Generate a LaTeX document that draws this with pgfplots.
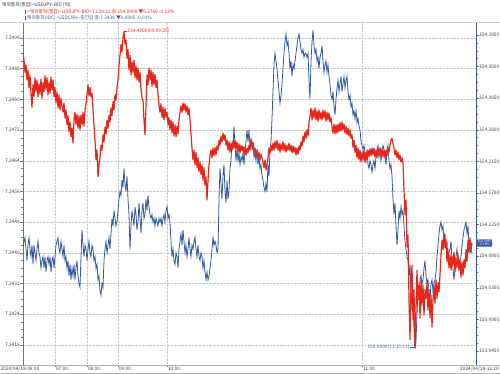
\documentclass[border=0pt]{standalone}
\usepackage{fontspec}
\setmainfont{Noto Sans CJK KR}
\usepackage{pgfplots}
\pgfplotsset{compat=1.18}
\usepackage{pgfplotstable}
\definecolor{cnhblue}{RGB}{52,88,160}
\definecolor{jpyred}{RGB}{228,40,28}
\definecolor{annblue}{RGB}{90,110,160}
\newcommand\tf{\fontsize{4.8}{5.2}\selectfont}
\begin{document}
\begin{tikzpicture}
\useasboundingbox (0,0) rectangle (500bp,374bp);
\begin{axis}[
  at={(23bp,9bp)}, anchor=south west, scale only axis, width=453bp, height=342bp,
  xmin=0, xmax=453, ymin=7.241078, ymax=7.24999,
  axis x line*=bottom, axis y line*=left,
  axis line style={-, black!55, line width=0.5bp},
  tick align=outside, major tick length=2.5bp, minor tick length=1.5bp,
  tick style={black!55, line width=0.4bp},
  ytick={7.2416,7.2424,7.2432,7.2440,7.2448,7.2456,7.2464,7.2472,7.2480,7.2488,7.2496},
  yticklabels={7.2416,7.2424,7.2432,7.2440,7.2448,7.2456,7.2464,7.2472,7.2480,7.2488,7.2496},
  minor y tick num=3,
  xtick={32,64,95,144,339},
  xticklabels={07:00,08:00,09:00,10:00,11:00},
  xticklabel style={anchor=north west, inner sep=0pt, xshift=0.8bp, yshift=1bp},
  yticklabel style={inner sep=0.6bp},
  ticklabel style={font=\tf, text=black!75},
  grid=major, grid style={densely dotted, black!22, line width=0.4bp},
  clip=true,
]
\addplot[cnhblue, line width=0.8bp] table[header=false, x expr=\coordindex, y index=0, row sep=\\] {
7.2441\\7.2443\\7.2444\\7.2441\\7.2438\\7.2442\\7.2444\\7.2441\\7.2439\\7.2442\\
7.2437\\7.2442\\7.2440\\7.2438\\7.2441\\7.2443\\7.2440\\7.2439\\7.2436\\7.2438\\
7.2439\\7.2436\\7.2439\\7.2435\\7.2438\\7.2439\\7.2437\\7.2439\\7.2435\\7.2438\\
7.2439\\7.2436\\7.2439\\7.2442\\7.2443\\7.2444\\7.2441\\7.2440\\7.2443\\7.2441\\
7.2439\\7.2442\\7.2438\\7.2439\\7.2436\\7.2438\\7.2434\\7.2437\\7.2433\\7.2436\\
7.2434\\7.2437\\7.2433\\7.2436\\7.2438\\7.2434\\7.2432\\7.2431\\7.2439\\7.2446\\
7.2442\\7.2439\\7.2442\\7.2441\\7.2438\\7.2441\\7.2443\\7.2440\\7.2439\\7.2442\\
7.2441\\7.2438\\7.2439\\7.2436\\7.2437\\7.2433\\7.2434\\7.2430\\7.2429\\7.2432\\
7.2431\\7.2438\\7.2441\\7.2443\\7.2440\\7.2442\\7.2444\\7.2441\\7.2445\\7.2449\\
7.2447\\7.2451\\7.2449\\7.2447\\7.2448\\7.2451\\7.2454\\7.2456\\7.2455\\7.2459\\
7.2457\\7.2462\\7.2458\\7.2456\\7.2460\\7.2454\\7.2450\\7.2441\\7.2447\\7.2451\\
7.2449\\7.2447\\7.2452\\7.2450\\7.2446\\7.2448\\7.2453\\7.2449\\7.2445\\7.2451\\
7.2453\\7.2449\\7.2450\\7.2454\\7.2451\\7.2455\\7.2452\\7.2450\\7.2449\\7.2450\\
7.2448\\7.2449\\7.2447\\7.2449\\7.2448\\7.2447\\7.2449\\7.2448\\7.2449\\7.2447\\
7.2449\\7.2450\\7.2448\\7.2451\\7.2452\\7.2449\\7.2450\\7.2448\\7.2443\\7.2439\\
7.2441\\7.2438\\7.2437\\7.2440\\7.2439\\7.2436\\7.2441\\7.2443\\7.2445\\7.2442\\
7.2446\\7.2443\\7.2440\\7.2442\\7.2439\\7.2441\\7.2444\\7.2441\\7.2439\\7.2442\\
7.2441\\7.2443\\7.2444\\7.2441\\7.2439\\7.2442\\7.2439\\7.2438\\7.2440\\7.2439\\
7.2436\\7.2438\\7.2435\\7.2433\\7.2435\\7.2433\\7.2434\\7.2436\\7.2438\\7.2441\\
7.2444\\7.2442\\7.2443\\7.2442\\7.2440\\7.2441\\7.2454\\7.2462\\7.2458\\7.2454\\
7.2460\\7.2463\\7.2456\\7.2453\\7.2459\\7.2454\\7.2456\\7.2462\\7.2464\\7.2469\\
7.2467\\7.2473\\7.2468\\7.2464\\7.2467\\7.2464\\7.2466\\7.2463\\7.2465\\7.2464\\
7.2466\\7.2463\\7.2467\\7.2469\\7.2472\\7.2469\\7.2472\\7.2467\\7.2470\\7.2467\\
7.2468\\7.2465\\7.2466\\7.2464\\7.2467\\7.2463\\7.2465\\7.2462\\7.2463\\7.2460\\
7.2459\\7.2457\\7.2456\\7.2458\\7.2456\\7.2463\\7.2460\\7.2467\\7.2469\\7.2475\\
7.2482\\7.2489\\7.2492\\7.2490\\7.2488\\7.2485\\7.2482\\7.2479\\7.2481\\7.2484\\
7.2488\\7.2492\\7.2495\\7.2497\\7.2494\\7.2495\\7.2492\\7.2488\\7.2490\\7.2486\\
7.2489\\7.2488\\7.2490\\7.2492\\7.2494\\7.2496\\7.2497\\7.2495\\7.2493\\7.2492\\
7.2493\\7.2491\\7.2492\\7.2492\\7.2491\\7.2492\\7.2485\\7.2480\\7.2490\\7.2495\\
7.2498\\7.2494\\7.2492\\7.2493\\7.2490\\7.2491\\7.2488\\7.2491\\7.2492\\7.2494\\
7.2490\\7.2487\\7.2489\\7.2490\\7.2487\\7.2489\\7.2486\\7.2484\\7.2481\\7.2480\\
7.2482\\7.2478\\7.2476\\7.2480\\7.2483\\7.2485\\7.2482\\7.2484\\7.2486\\7.2482\\
7.2484\\7.2486\\7.2483\\7.2485\\7.2486\\7.2482\\7.2480\\7.2481\\7.2478\\7.2479\\
7.2476\\7.2477\\7.2475\\7.2477\\7.2474\\7.2475\\7.2473\\7.2472\\7.2469\\7.2468\\
7.2467\\7.2468\\7.2466\\7.2464\\7.2467\\7.2463\\7.2462\\7.2464\\7.2463\\7.2461\\
7.2463\\7.2464\\7.2462\\7.2465\\7.2467\\7.2468\\7.2465\\7.2467\\7.2464\\7.2466\\
7.2468\\7.2467\\7.2465\\7.2463\\7.2467\\7.2468\\7.2464\\7.2462\\7.2463\\7.2460\\
7.2454\\7.2450\\7.2453\\7.2447\\7.2442\\7.2446\\7.2451\\7.2449\\7.2452\\7.2450\\
7.2451\\7.2447\\7.2443\\7.2441\\7.2439\\7.2438\\7.2434\\7.2437\\7.2430\\7.2425\\
7.2430\\7.2420\\7.2415\\7.2417\\7.2424\\7.2430\\7.2428\\7.2433\\7.2434\\7.2432\\
7.2433\\7.2436\\7.2438\\7.2434\\7.2432\\7.2433\\7.2430\\7.2428\\7.2432\\7.2433\\
7.2430\\7.2432\\7.2433\\7.2435\\7.2439\\7.2442\\7.2445\\7.2447\\7.2448\\7.2446\\
7.2447\\7.2443\\7.2445\\7.2441\\7.2443\\7.2438\\7.2440\\7.2441\\7.2443\\7.2438\\
7.2436\\7.2433\\7.2436\\7.2439\\7.2441\\7.2438\\7.2436\\7.2438\\7.2439\\7.2442\\
7.2444\\7.2446\\7.2447\\7.2448\\7.2445\\7.2447\\7.2442\\7.2440\\7.2441\\7.2440\\
};
\end{axis}
\begin{axis}[
  at={(23bp,9bp)}, anchor=south west, scale only axis, width=453bp, height=342bp,
  xmin=0, xmax=453, ymin=153.925, ymax=154.41205,
  axis x line=none, axis y line*=right,
  axis line style={-, cnhblue, line width=0.8bp},
  tick align=outside, major tick length=2.5bp, minor tick length=1.5bp,
  tick style={black!55, line width=0.4bp},
  ytick={153.945,153.990,154.035,154.080,154.125,154.170,154.215,154.260,154.305,154.350,154.395},
  yticklabels={153.9450,153.9900,154.0350,154.0800,154.1250,154.1700,154.2150,154.2600,154.3050,154.3500,154.3950},
  minor y tick num=3,
  yticklabel style={font=\tf, text=black!75, inner sep=0.6bp},
  clip=true,
]
\addplot[jpyred, line width=1.2bp, line join=round] table[header=false, x expr=\coordindex, y index=0, row sep=\\] {
154.371\\154.359\\154.342\\154.352\\154.331\\154.345\\154.320\\154.338\\154.310\\154.292\\
154.324\\154.308\\154.334\\154.314\\154.331\\154.307\\154.325\\154.311\\154.332\\154.305\\
154.327\\154.314\\154.337\\154.317\\154.334\\154.310\\154.328\\154.312\\154.335\\154.317\\
154.331\\154.307\\154.320\\154.298\\154.314\\154.291\\154.310\\154.288\\154.305\\154.294\\
154.285\\154.298\\154.277\\154.288\\154.267\\154.280\\154.257\\154.271\\154.250\\154.262\\
154.241\\154.274\\154.285\\154.267\\154.282\\154.262\\154.280\\154.260\\154.281\\154.267\\
154.285\\154.265\\154.288\\154.297\\154.310\\154.324\\154.308\\154.320\\154.307\\154.312\\
154.288\\154.267\\154.245\\154.217\\154.231\\154.193\\154.210\\154.220\\154.238\\154.231\\
154.253\\154.243\\154.264\\154.254\\154.274\\154.262\\154.281\\154.271\\154.291\\154.280\\
154.300\\154.288\\154.310\\154.302\\154.320\\154.331\\154.352\\154.366\\154.381\\154.371\\
154.391\\154.400\\154.382\\154.388\\154.362\\154.374\\154.345\\154.366\\154.338\\154.357\\
154.342\\154.359\\154.334\\154.351\\154.331\\154.348\\154.328\\154.342\\154.317\\154.305\\
154.302\\154.274\\154.253\\154.295\\154.338\\154.324\\154.348\\154.331\\154.345\\154.322\\
154.342\\154.324\\154.339\\154.320\\154.331\\154.310\\154.295\\154.285\\154.297\\154.277\\
154.292\\154.274\\154.291\\154.278\\154.285\\154.267\\154.277\\154.260\\154.274\\154.255\\
154.271\\154.251\\154.267\\154.250\\154.265\\154.254\\154.274\\154.285\\154.294\\154.285\\
154.298\\154.288\\154.297\\154.285\\154.294\\154.281\\154.291\\154.274\\154.253\\154.234\\
154.217\\154.231\\154.210\\154.228\\154.206\\154.220\\154.200\\154.214\\154.196\\154.210\\
154.188\\154.206\\154.181\\154.193\\154.160\\154.188\\154.210\\154.224\\154.231\\154.220\\
154.234\\154.223\\154.235\\154.224\\154.237\\154.231\\154.245\\154.238\\154.251\\154.243\\
154.255\\154.245\\154.253\\154.238\\154.245\\154.231\\154.243\\154.228\\154.241\\154.231\\
154.244\\154.234\\154.245\\154.233\\154.243\\154.228\\154.240\\154.227\\154.238\\154.230\\
154.237\\154.225\\154.235\\154.224\\154.234\\154.227\\154.238\\154.231\\154.245\\154.237\\
154.243\\154.228\\154.234\\154.223\\154.231\\154.220\\154.228\\154.217\\154.225\\154.220\\
154.213\\154.206\\154.217\\154.203\\154.210\\154.220\\154.234\\154.227\\154.238\\154.230\\
154.241\\154.231\\154.243\\154.234\\154.245\\154.231\\154.241\\154.228\\154.240\\154.231\\
154.243\\154.230\\154.240\\154.228\\154.238\\154.231\\154.241\\154.230\\154.238\\154.227\\
154.237\\154.228\\154.235\\154.224\\154.234\\154.225\\154.237\\154.231\\154.243\\154.237\\
154.251\\154.243\\154.257\\154.248\\154.260\\154.251\\154.271\\154.280\\154.291\\154.274\\
154.288\\154.277\\154.291\\154.274\\154.287\\154.272\\154.288\\154.275\\154.285\\154.274\\
154.288\\154.277\\154.287\\154.272\\154.285\\154.274\\154.284\\154.271\\154.277\\154.265\\
154.255\\154.268\\154.254\\154.267\\154.255\\154.268\\154.257\\154.270\\154.258\\154.271\\
154.260\\154.268\\154.255\\154.265\\154.253\\154.262\\154.251\\154.260\\154.248\\154.253\\
154.235\\154.245\\154.228\\154.238\\154.220\\154.234\\154.217\\154.231\\154.214\\154.228\\
154.217\\154.231\\154.213\\154.228\\154.217\\154.231\\154.221\\154.233\\154.223\\154.234\\
154.224\\154.234\\154.221\\154.231\\154.220\\154.233\\154.223\\154.234\\154.224\\154.233\\
154.221\\154.231\\154.220\\154.231\\154.223\\154.234\\154.228\\154.238\\154.245\\154.248\\
154.241\\154.234\\154.224\\154.231\\154.220\\154.228\\154.217\\154.224\\154.214\\154.220\\
154.213\\154.174\\154.139\\154.160\\154.093\\154.110\\154.018\\153.961\\154.046\\154.067\\
153.989\\154.032\\153.950\\154.003\\154.060\\154.018\\154.039\\153.992\\154.046\\154.010\\
154.039\\153.996\\154.032\\154.020\\154.042\\154.003\\154.032\\153.992\\154.025\\153.979\\
154.018\\154.039\\154.013\\154.046\\154.020\\154.042\\154.029\\154.053\\154.082\\154.103\\
154.089\\154.112\\154.092\\154.103\\154.072\\154.089\\154.063\\154.082\\154.060\\154.080\\
154.067\\154.086\\154.058\\154.077\\154.063\\154.082\\154.060\\154.075\\154.050\\154.072\\
154.053\\154.075\\154.063\\154.089\\154.072\\154.103\\154.086\\154.106\\154.089\\154.099\\
};
\draw[jpyred, line width=0.4bp] (axis cs:101,154.400) -- (axis cs:104,154.400)
  node[anchor=west, inner sep=0.4bp, font=\tf, text=jpyred] {154.4000(09:09:20)};
\draw[annblue, line width=0.4bp] (axis cs:392,153.950) -- (axis cs:387,153.950)
  node[anchor=east, inner sep=0.4bp, font=\tf, text=annblue] {153.9500(11:15:11)};
\draw[jpyred, line width=0.8bp] (rel axis cs:1,1) -- (rel axis cs:1,0.93);
\end{axis}
% titles and legend
\node[anchor=west, inner sep=0pt, font=\tf, text=black!80] at (2bp,369bp) {해외통화(통합)--USDJPY--BID (틱)};
\draw[jpyred, line width=0.5bp] (25bp,360bp) -- (25bp,364bp);
\node[anchor=west, inner sep=0pt, font=\tf, text=jpyred] at (27bp,362bp) {<해외통화(통합)--USDJPY--BID>11:29:22 종:154.0990 ▼0.2760 -0.18\%};
\draw[cnhblue, line width=0.5bp] (25bp,354bp) -- (25bp,358bp);
\node[anchor=west, inner sep=0pt, font=\tf, text=cnhblue] at (27bp,356bp) {해외통화(IDC)--USDCNH--중간값 종:7.2436 ▼0.0005 -0.01\%};
\draw[black!20, line width=0.4bp] (0bp,351.5bp) -- (500bp,351.5bp);
% bottom labels
\node[anchor=north west, inner sep=0pt, font=\tf, text=black!75] at (0.5bp,7.5bp) {2024/04/18-06:00};
\node[anchor=north east, inner sep=0pt, font=\tf, text=black!75] at (499bp,7.5bp) {2024/04/18-11:29};
\draw[black!30, line width=0.4bp] (0bp,9bp) -- (500bp,9bp);
\draw[black!30, line width=0.4bp] (0bp,1bp) -- (500bp,1bp);
% current value box
\node[anchor=west, fill=cnhblue, text=white, rounded corners=0.8bp, inner sep=0.6bp, align=center,
  font=\fontsize{3.4}{3.6}\selectfont] at (476.5bp,131bp) {154.0990\\-0.18\%};
\end{tikzpicture}
\end{document}
